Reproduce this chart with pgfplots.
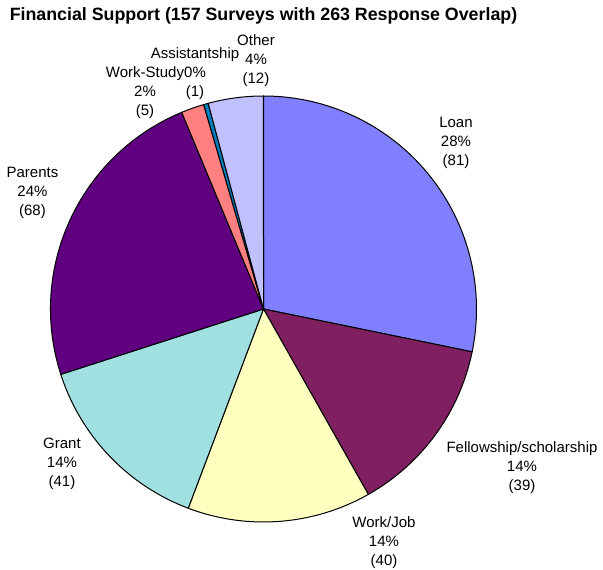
\documentclass[border=0pt]{standalone}
\usepackage{pgfplots}
\usepackage{pgfplotstable}
\pgfplotsset{compat=1.18}
\usepackage{fontspec}
\setmainfont{Liberation Sans}

\definecolor{cLoan}{HTML}{8080FF}
\definecolor{cFell}{HTML}{802060}
\definecolor{cWork}{HTML}{FFFFC0}
\definecolor{cGrant}{HTML}{A0E0E0}
\definecolor{cParents}{HTML}{600080}
\definecolor{cWS}{HTML}{FF8080}
\definecolor{cAssist}{HTML}{0080C0}
\definecolor{cOther}{HTML}{C0C0FF}

\tikzset{lbl/.style={font=\fontsize{15}{19}\selectfont, align=center, inner sep=0pt}}

% responses per kind of support, clockwise from the top
\pgfplotstableread{
value color
81 cLoan
39 cFell
40 cWork
41 cGrant
68 cParents
5  cWS
1  cAssist
12 cOther
}\piedata

\begin{document}
\begin{tikzpicture}
\begin{axis}[
    x=1pt, y=1pt,
    xmin=0, xmax=603, ymin=0, ymax=570,
    hide axis, clip=false,
]
% total of all responses
\gdef\ptotal{0}
\pgfplotsinvokeforeach{0,...,7}{
    \pgfplotstablegetelem{#1}{value}\of\piedata
    \pgfmathsetmacro\tmp{\ptotal+\pgfplotsretval}\xdef\ptotal{\tmp}
}
\gdef\pacc{0}
\pgfplotsinvokeforeach{0,...,7}{
    \pgfplotstablegetelem{#1}{value}\of\piedata \let\pval\pgfplotsretval
    \pgfplotstablegetelem{#1}{color}\of\piedata \let\pcol\pgfplotsretval
    \pgfmathsetmacro\astart{90-360/\ptotal*\pacc}
    \pgfmathsetmacro\tmp{\pacc+\pval}\xdef\pacc{\tmp}
    \pgfmathsetmacro\aend{90-360/\ptotal*\pacc}
    \edef\wedge{\noexpand\fill[fill=\pcol, draw=black, line width=1pt, line join=round]
        (axis cs:263.5,261) -- ++(\astart:213pt)
        arc[start angle=\astart, end angle=\aend, radius=213pt] -- cycle;}
    \wedge
}

\node[font=\fontsize{17.8}{20}\selectfont\bfseries, inner sep=0pt] at (axis cs:263.5,554) {Financial Support (157 Surveys with 263 Response Overlap)};
\node[lbl] at (axis cs:456,427) {Loan\\28\%\\(81)};
\node[lbl] at (axis cs:522,102) {Fellowship/scholarship\\14\%\\(39)};
\node[lbl] at (axis cs:384,27.5) {Work/Job\\14\%\\(40)};
\node[lbl] at (axis cs:62,106) {Grant\\14\%\\(41)};
\node[lbl] at (axis cs:32.5,377) {Parents\\24\%\\(68)};
\node[lbl] at (axis cs:145,477.5) {Work-Study\\2\%\\(5)};
\node[lbl] at (axis cs:195,496.3) {Assistantship\\0\%\\(1)};
\node[lbl] at (axis cs:256,509) {Other\\4\%\\(12)};
\end{axis}
\pgfresetboundingbox
\path (0,0) rectangle (603pt,570pt);
\end{tikzpicture}
\end{document}
